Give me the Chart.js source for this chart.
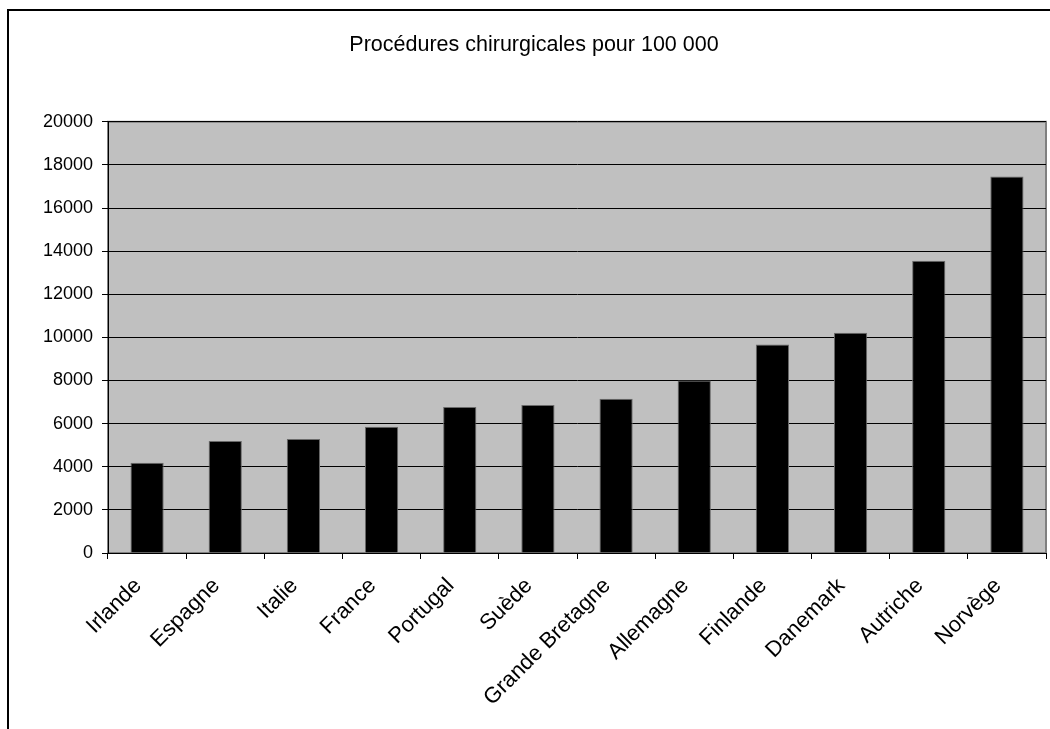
<html>
  <head>
    <script src="https://cdn.jsdelivr.net/npm/chart.js@4/dist/chart.umd.min.js"></script>
    <style>
      body { margin: 0; background: #fff; overflow: hidden; }
      #frame { position: absolute; left: 7px; top: 9px; width: 1100px; height: 800px;
               border-left: 2px solid #000; border-top: 2px solid #000; }
      #wrap { position: absolute; left: 0; top: 0; width: 1050px; height: 729px; }
    </style>
  </head>
  <body>
    <div id="frame"></div>
    <div id="wrap"><canvas id="surgery"></canvas></div>

    <script>
      var countries = ['Irlande', 'Espagne', 'Italie', 'France', 'Portugal', 'Suède',
                       'Grande Bretagne', 'Allemagne', 'Finlande', 'Danemark', 'Autriche', 'Norvège'];
      var procedures = [4190, 5200, 5290, 5860, 6775, 6870, 7150, 8000, 9670, 10220, 13550, 17460];
      var yTicks = [0, 2000, 4000, 6000, 8000, 10000, 12000, 14000, 16000, 18000, 20000];

      var font = 'Liberation Sans, Arial, sans-serif';

      // grey plot area with grey frame, like the old spreadsheet charts
      var plotBackground = {
        id: 'plotBackground',
        beforeDraw(chart) {
          var a = chart.chartArea, c = chart.ctx;
          c.save();
          c.fillStyle = '#c0c0c0';
          c.fillRect(a.left, a.top, a.right - a.left, a.bottom - a.top);
          c.strokeStyle = '#808080';
          c.lineWidth = 2;
          c.strokeRect(a.left, a.top, a.right - a.left, a.bottom - a.top);
          c.restore();
        }
      };

      var ctx = document.getElementById('surgery').getContext('2d');
      new Chart(ctx, {
        type: 'bar',
        data: {
          labels: countries,
          datasets: [{
            data: procedures,
            backgroundColor: '#000',
            borderColor: '#6a6a6a',
            borderWidth: 1,
            categoryPercentage: 0.85,
            barPercentage: 0.5
          }]
        },
        options: {
          responsive: true,
          maintainAspectRatio: false,
          animation: false,
          // left padding nudges the centred title to the right, the y axis width makes up for it
          layout: { padding: { left: 22, right: 4, top: 0, bottom: 0 } },
          plugins: {
            legend: { display: false },
            tooltip: { enabled: false },
            title: {
              display: true,
              text: 'Procédures chirurgicales pour 100 000',
              color: '#000',
              font: { family: font, size: 21.5, weight: 'normal' },
              padding: { top: 32, bottom: 64 }
            }
          },
          scales: {
            x: {
              grid: { drawOnChartArea: false, drawTicks: true, tickLength: 6, color: '#000', offset: true },
              border: { color: '#000', width: 1 },
              ticks: {
                color: '#000',
                font: { family: font, size: 22 },
                minRotation: 45,
                maxRotation: 45,
                padding: 14,
                labelOffset: -9
              },
              afterFit(scale) { scale.height = 176; }
            },
            y: {
              min: 0,
              max: 20000,
              afterBuildTicks(scale) { scale.ticks = yTicks.map(v => ({ value: v })); },
              grid: { color: '#000', lineWidth: 1, tickLength: 6 },
              border: { color: '#000', width: 1 },
              ticks: {
                color: '#000',
                font: { family: font, size: 18 },
                padding: 9,
                callback: v => String(v)
              },
              afterFit(scale) { scale.width = 86; }
            }
          }
        },
        plugins: [plotBackground]
      });
    </script>
  </body>
</html>
